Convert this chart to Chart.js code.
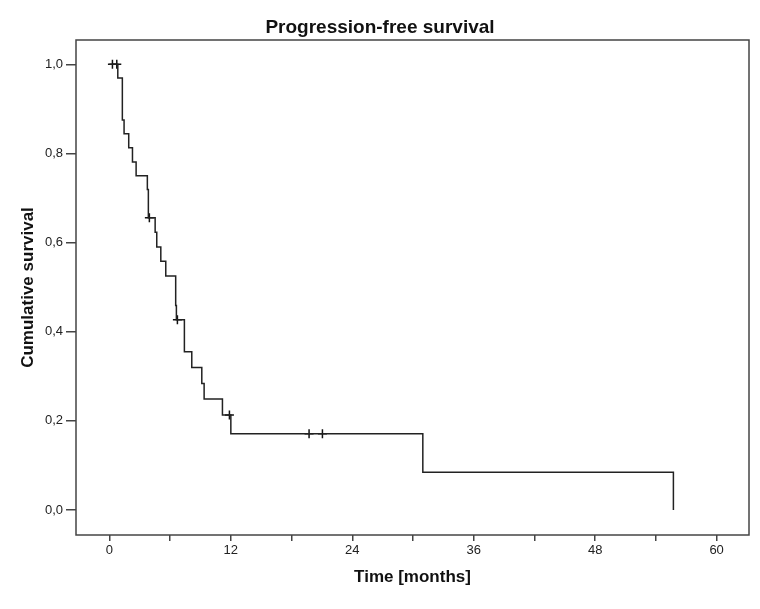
<!DOCTYPE html>
<html>
<head>
<meta charset="utf-8">
<script src="https://cdn.jsdelivr.net/npm/chart.js@4/dist/chart.umd.min.js"></script>
<style>
  html, body { margin: 0; padding: 0; background: #ffffff; }
  #wrap { width: 760px; height: 609px; position: relative; }
</style>
</head>
<body>
<div id="wrap"><canvas id="c" width="760" height="609"></canvas></div>
<script>
// Kaplan-Meier step points (time in months, cumulative survival)
const stepTimes = [0, 0.83, 1.28, 1.45, 1.91, 2.28, 2.64, 3.75, 3.85, 4.52, 4.68, 5.08, 5.57, 6.55, 6.62, 7.41, 8.14, 9.13, 9.36, 11.17, 12.0, 30.97, 55.73];
const survival  = [1.0, 0.969, 0.875, 0.844, 0.813, 0.781, 0.750, 0.719, 0.656, 0.623, 0.590, 0.558, 0.525, 0.459, 0.427, 0.355, 0.320, 0.284, 0.249, 0.213, 0.171, 0.085, 0.0];
// Censored observations
const censorTimes    = [0.3, 0.73, 3.95, 6.72, 11.86, 19.73, 21.05];
const censorSurvival = [1.0, 1.0, 0.656, 0.427, 0.213, 0.171, 0.171];
// Ticks
const xTickValues = [0, 6, 12, 18, 24, 30, 36, 42, 48, 54, 60];
const xTickLabels = ['0', '', '12', '', '24', '', '36', '', '48', '', '60'];
const yTickValues = [0, 0.2, 0.4, 0.6, 0.8, 1.0];
const yTickLabels = ['0,0', '0,2', '0,4', '0,6', '0,8', '1,0'];

const titleText = 'Progression-free survival';
const xTitle = 'Time [months]';
const yTitle = 'Cumulative survival';

const kmPoints = stepTimes.map((t, i) => ({ x: t, y: survival[i] }));
const censorPoints = censorTimes.map((t, i) => ({ x: t, y: censorSurvival[i] }));

const frameAndTitle = {
  id: 'frameAndTitle',
  afterDraw(chart) {
    const { ctx, chartArea: a } = chart;
    ctx.save();
    ctx.strokeStyle = '#444444';
    ctx.lineWidth = 1.5;
    ctx.strokeRect(a.left, a.top, a.right - a.left, a.bottom - a.top);
    ctx.fillStyle = '#111111';
    ctx.font = 'bold 19px "Liberation Sans", Arial, sans-serif';
    ctx.textAlign = 'center';
    ctx.textBaseline = 'alphabetic';
    ctx.fillText(titleText, 380, 33);
    ctx.restore();
  }
};

new Chart(document.getElementById('c'), {
  type: 'scatter',
  data: {
    datasets: [
      {
        label: 'Survival function',
        data: kmPoints,
        showLine: true,
        stepped: 'before',
        borderColor: '#222222',
        borderWidth: 1.5,
        pointRadius: 0,
        fill: false
      },
      {
        label: 'Censored',
        data: censorPoints,
        showLine: false,
        pointStyle: 'cross',
        pointRadius: 4.5,
        borderColor: '#111111',
        borderWidth: 1.5,
        backgroundColor: '#111111'
      }
    ]
  },
  options: {
    responsive: false,
    animation: false,
    devicePixelRatio: 1,
    layout: { padding: { top: 40, right: 11, bottom: 0, left: 0 } },
    plugins: {
      legend: { display: false },
      tooltip: { enabled: false },
      title: { display: false }
    },
    scales: {
      x: {
        type: 'linear',
        min: -3.3,
        max: 63.2,
        afterFit(scale) { scale.height = 74; },
        afterBuildTicks(scale) { scale.ticks = xTickValues.map(v => ({ value: v })); },
        ticks: {
          autoSkip: false,
          maxRotation: 0,
          padding: 2,
          color: '#222222',
          font: { family: '"Liberation Sans", Arial, sans-serif', size: 13 },
          callback(value) {
            const i = xTickValues.indexOf(value);
            return i >= 0 ? xTickLabels[i] : '';
          }
        },
        grid: { drawOnChartArea: false, drawTicks: true, tickLength: 6, color: '#444444', lineWidth: 1.5 },
        border: { display: false },
        title: {
          display: true,
          text: xTitle,
          color: '#111111',
          font: { family: '"Liberation Sans", Arial, sans-serif', size: 17, weight: 'bold' },
          padding: { top: 0, bottom: 21 }
        }
      },
      y: {
        type: 'linear',
        min: -0.056,
        max: 1.0545,
        afterFit(scale) { scale.width = 76; },
        afterBuildTicks(scale) { scale.ticks = yTickValues.map(v => ({ value: v })); },
        ticks: {
          autoSkip: false,
          padding: 3,
          color: '#222222',
          font: { family: '"Liberation Sans", Arial, sans-serif', size: 13 },
          callback(value) {
            const i = yTickValues.findIndex(v => Math.abs(v - value) < 1e-9);
            return i >= 0 ? yTickLabels[i] : '';
          }
        },
        grid: { drawOnChartArea: false, drawTicks: true, tickLength: 10, color: '#444444', lineWidth: 1.5 },
        border: { display: false },
        title: {
          display: true,
          text: yTitle,
          color: '#111111',
          font: { family: '"Liberation Sans", Arial, sans-serif', size: 17, weight: 'bold' },
          padding: { top: 18, bottom: 0 }
        }
      }
    }
  },
  plugins: [frameAndTitle]
});
</script>
</body>
</html>
